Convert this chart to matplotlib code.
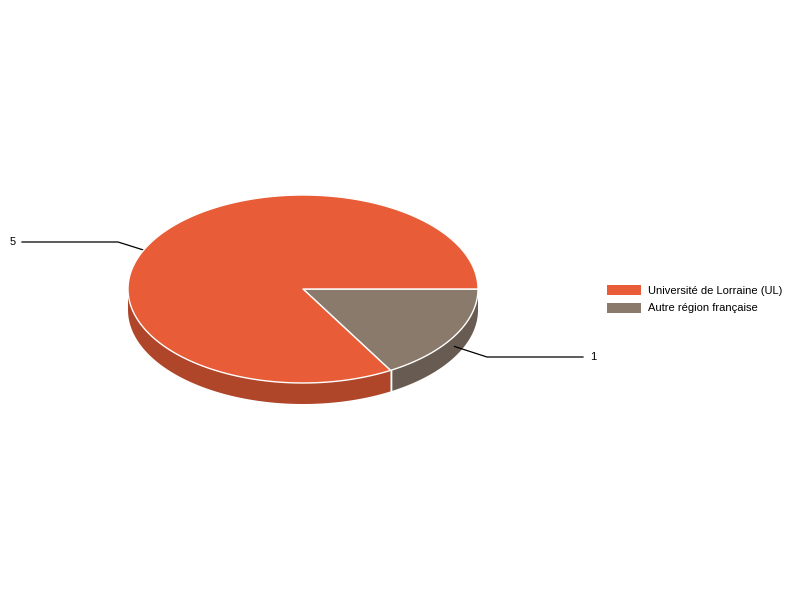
import numpy as np
import matplotlib
matplotlib.use("Agg")
import matplotlib.pyplot as plt
from matplotlib.patches import Polygon, Patch

categories = ["Université de Lorraine (UL)", "Autre région française"]
values = [5, 1]
top_colors = ["#E85D37", "#8A7A6C"]
side_colors = ["#AF462A", "#685C52"]

plt.rcParams['font.family'] = ['Liberation Sans', 'DejaVu Sans']

fig = plt.figure(figsize=(8, 6), dpi=100)
ax = fig.add_axes([0, 0, 1, 1])
ax.set_xlim(0, 800)
ax.set_ylim(600, 0)
ax.axis('off')

cx, cy, rx, ry, depth = 303, 289, 175, 94, 21

def pt(t, dy=0):
    r = np.radians(t)
    return cx + rx * np.cos(r), cy + ry * np.sin(r) + dy

total = sum(values)
order = [1, 0]
start = 0.0
angles = {}
for i in order:
    span = values[i] / total * 360
    angles[i] = (start, start + span)
    start += span

# side walls (front half: 0..180)
for i in order:
    a0, a1 = angles[i]
    s0, s1 = max(a0, 0), min(a1, 180)
    if s1 > s0:
        ts = np.linspace(s0, s1, 100)
        top = [pt(t) for t in ts]
        bot = [pt(t, depth) for t in ts[::-1]]
        ax.add_patch(Polygon(top + bot, closed=True, facecolor=side_colors[i],
                             edgecolor='none', zorder=2))
for i in order:
    a0, a1 = angles[i]
    for a in (a0, a1):
        if 0 < a % 360 < 180:
            x, y = pt(a)
            ax.plot([x, x], [y, y + depth], color='white', lw=1, zorder=3)

# top wedges
for i in order:
    a0, a1 = angles[i]
    ts = np.linspace(a0, a1, 200)
    poly = [(cx, cy)] + [pt(t) for t in ts]
    ax.add_patch(Polygon(poly, closed=True, facecolor=top_colors[i],
                         edgecolor='white', lw=1, zorder=5, joinstyle='round'))

# labels with leader lines
label_pos = {0: (22, 242, 118), 1: (583, 357, 487)}
for i in order:
    a0, a1 = angles[i]
    mid = (a0 + a1) / 2
    ax_, ay_ = pt(mid, depth / 2)
    tx, ty, ex = label_pos[i]
    ax.plot([tx, ex, ax_], [ty, ty, ay_], color='black', lw=0.9, zorder=4)
    if tx < cx:
        ax.text(tx - 6, ty, str(values[i]), ha='right', va='center', fontsize=8)
    else:
        ax.text(tx + 7, ty, str(values[i]), ha='left', va='center', fontsize=8)

handles = [Patch(facecolor=top_colors[i], edgecolor='none') for i in range(len(categories))]
ax.legend(handles, categories, loc='upper left',
          bbox_to_anchor=(607 / 800, 1 - 285 / 600), frameon=False, fontsize=8,
          handlelength=3.1, handleheight=1.0, labelspacing=0.62, handletextpad=0.6,
          borderpad=0, borderaxespad=0)

fig.savefig("out.png", dpi=100, facecolor='white')
